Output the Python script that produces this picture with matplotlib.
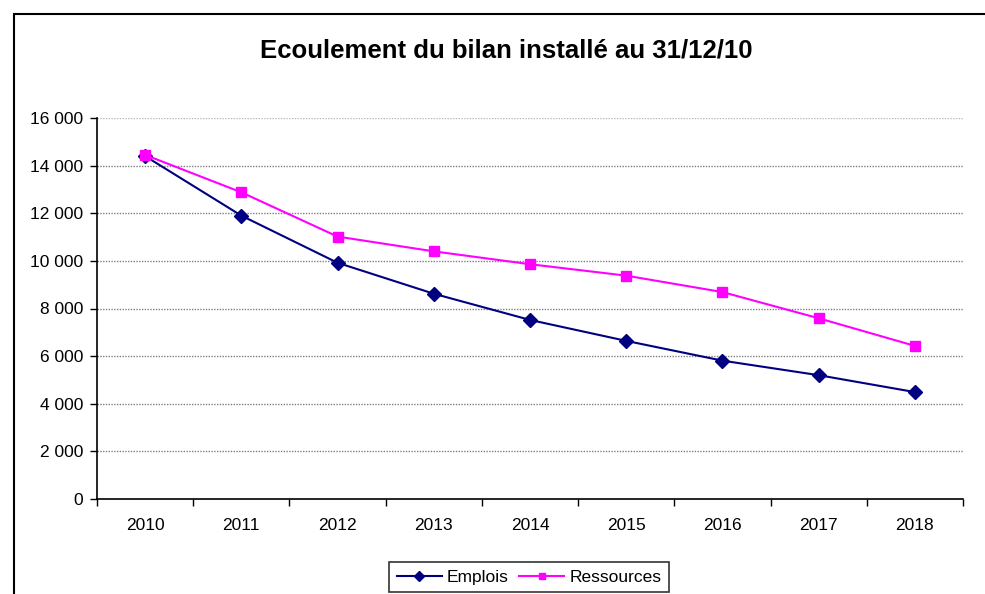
import matplotlib.pyplot as plt
from matplotlib.patches import Rectangle
from matplotlib.ticker import FuncFormatter, FixedLocator

plt.rcParams['font.family'] = ['Liberation Sans', 'DejaVu Sans']

annees = ['2010', '2011', '2012', '2013', '2014', '2015', '2016', '2017', '2018']
emplois = [14400, 11900, 9920, 8620, 7520, 6640, 5810, 5200, 4490]
ressources = [14450, 12880, 11020, 10400, 9860, 9380, 8690, 7590, 6430]

fig = plt.figure(figsize=(9.85, 5.94), dpi=100)
ax = fig.add_axes([97/985, 1-499/594, (963-97)/985, (499-118)/594])

x = list(range(len(annees)))
ax.plot(x, emplois, color='#000080', marker='D', markersize=7, lw=1.5, label='Emplois', zorder=3)
ax.plot(x, ressources, color='#FF00FF', marker='s', markersize=7, lw=1.5, label='Ressources', zorder=3)

ax.set_xlim(-0.5, len(annees) - 0.5)
ax.set_ylim(0, 16000)
ax.set_yticks(range(0, 16001, 2000))
ax.yaxis.set_major_formatter(FuncFormatter(lambda v, p: f'{int(v):,}'.replace(',', ' ')))
for v in range(2000, 16001, 2000):
    c = '#b8b8b8' if v == 16000 else '#808080'
    ax.axhline(v, color=c, lw=1, ls=(0, (1, 1)), zorder=1)

# ticks between categories, labels centered
ax.xaxis.set_major_locator(FixedLocator([i - 0.5 for i in range(len(annees) + 1)]))
ax.xaxis.set_minor_locator(FixedLocator(x))
ax.set_xticklabels([])
ax.set_xticklabels(annees, minor=True)
ax.tick_params(axis='x', which='major', length=5, width=1, direction='out')
ax.tick_params(axis='x', which='minor', length=0, pad=14, labelsize=12.5)
ax.tick_params(axis='y', length=5, width=1, direction='out', pad=5, labelsize=12.5)

for s in ['top', 'right']:
    ax.spines[s].set_visible(False)
for s in ['left', 'bottom']:
    ax.spines[s].set_linewidth(1.2)

fig.text(506/985, 1 - 51/594, 'Ecoulement du bilan installé au 31/12/10',
         ha='center', va='center', fontsize=18.5, fontweight='bold')

leg = fig.legend(loc='upper center', bbox_to_anchor=(529/985, 1 - 553/594), ncol=2,
                 fontsize=12.5, frameon=True, fancybox=False, edgecolor='black',
                 handlelength=2.6, columnspacing=0.6, handletextpad=0.3, borderpad=0.45,
                 markerscale=0.7)
leg.get_frame().set_linewidth(1.2)

fig.patches.append(Rectangle((14/985, -0.1), 1.2, 1 - 14/594 + 0.1, transform=fig.transFigure,
                             fill=False, edgecolor='black', lw=1.5, clip_on=False))

fig.savefig('out.png', dpi=100)
